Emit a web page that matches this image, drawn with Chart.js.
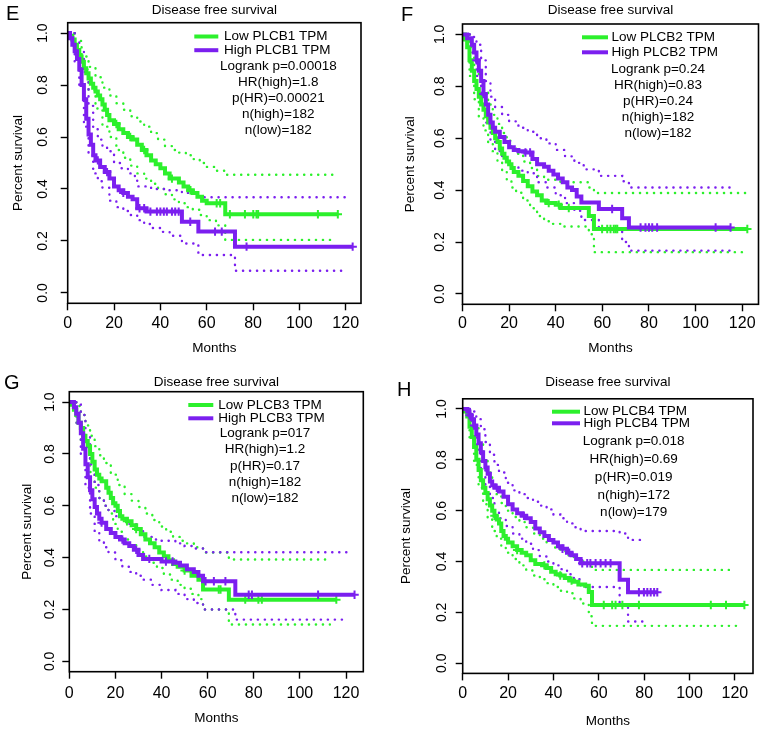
<!DOCTYPE html>
<html>
<head>
<meta charset="utf-8">
<script src="https://cdn.jsdelivr.net/npm/chart.js@4.4.0/dist/chart.umd.min.js"></script>
<style>
  body { margin: 0; background: #fff; width: 765px; height: 733px; position: relative; overflow: hidden;
         font-family: "Liberation Sans", Arial, sans-serif; }
  canvas { position: absolute; }
  .tag { position: absolute; font-size: 20px; line-height: 20px; color: #000; }
</style>
</head>
<body>
<canvas id="cE" width="382" height="362" style="left:0;top:0"></canvas>
<canvas id="cF" width="383" height="362" style="left:382px;top:0"></canvas>
<canvas id="cG" width="382" height="371" style="left:0;top:362px"></canvas>
<canvas id="cH" width="383" height="371" style="left:382px;top:362px"></canvas>
<div class="tag" style="left:6px;top:3px">E</div>
<div class="tag" style="left:401px;top:4px">F</div>
<div class="tag" style="left:4px;top:372px">G</div>
<div class="tag" style="left:397px;top:379px">H</div>

<script>
// --- shared axis data ---
const xTicks = [0, 20, 40, 60, 80, 100, 120];
const yTicks = [0, 0.2, 0.4, 0.6, 0.8, 1.0];
const panelTitle = 'Disease free survival';
const xTitle = 'Months';
const yTitle = 'Percent survival';

const GREEN = '#2cf02c';
const PURPLE = '#7b1fef';

// --- E : PLCB1 --- [month, survival]
const eLowCurve = [[0,1],[1,0.99],[2,0.975],[3,0.955],[4,0.935],[5,0.91],[6,0.89],[7,0.865],[8,0.845],[9,0.825],[10,0.805],[11,0.79],[12,0.775],[13,0.76],[14,0.745],[15,0.725],[16,0.705],[17,0.685],[18,0.665],[20,0.65],[22,0.63],[24,0.615],[26,0.6],[28,0.59],[30,0.57],[32,0.55],[34,0.53],[36,0.51],[38,0.495],[40,0.48],[42,0.46],[44,0.44],[48,0.425],[50,0.41],[52,0.395],[54,0.385],[56,0.37],[58,0.355],[60,0.345],[68,0.303],[116.6,0.303]];
const eLowUpper = [[0,1],[3,0.97],[6,0.91],[9,0.87],[12,0.83],[15,0.79],[18,0.76],[21,0.73],[24,0.705],[27,0.68],[30,0.66],[33,0.64],[36,0.615],[39,0.59],[42,0.565],[45,0.55],[48,0.54],[51,0.53],[54,0.515],[57,0.5],[60,0.485],[64,0.47],[68,0.455],[114.5,0.455]];
const eLowLower = [[0,1],[3,0.93],[6,0.86],[9,0.78],[12,0.71],[15,0.64],[18,0.6],[21,0.55],[24,0.52],[27,0.49],[30,0.46],[33,0.44],[36,0.42],[39,0.4],[42,0.38],[45,0.36],[48,0.345],[51,0.33],[54,0.32],[57,0.3],[60,0.28],[64,0.26],[68,0.204],[115.2,0.204]];
const eLowCensor = [21, 27, 33, 45, 53, 64.3, 65.8, 70, 76.5, 80.1, 81.5, 82.2, 108, 116.6];
const eHighCurve = [[0,1],[1,0.98],[2,0.955],[3,0.93],[4,0.9],[5,0.86],[6,0.8],[7,0.745],[8,0.67],[9,0.61],[10,0.57],[11,0.53],[12,0.51],[14,0.485],[16,0.465],[18,0.44],[20,0.41],[22,0.395],[24,0.385],[26,0.37],[28,0.36],[30,0.326],[34,0.313],[49.3,0.274],[56.4,0.236],[72.2,0.178],[123,0.178]];
const eHighUpper = [[0,1],[3,0.97],[5,0.93],[7,0.85],[9,0.72],[11,0.63],[13,0.59],[15,0.565],[17,0.545],[20,0.5],[23,0.48],[26,0.46],[29,0.445],[30,0.41],[36,0.4],[42,0.395],[49.3,0.385],[56.4,0.368],[120.2,0.368]];
const eHighLower = [[0,1],[3,0.89],[5,0.8],[7,0.64],[9,0.53],[11,0.46],[13,0.43],[15,0.405],[18,0.355],[21,0.33],[24,0.315],[27,0.3],[30,0.28],[33,0.265],[36,0.25],[40,0.235],[44,0.22],[49.3,0.19],[56.4,0.146],[72.2,0.085],[120.2,0.085]];
const eHighCensor = [13, 17, 24, 31, 33, 35.7, 38.5, 40, 41.5, 42.8, 45, 46.4, 47.9, 52.9, 63.6, 66.5, 77.2, 123];
const eLegend = ['Low PLCB1 TPM', 'High PLCB1 TPM'];
const eStats = ['Logrank p=0.00018', 'HR(high)=1.8', 'p(HR)=0.00021', 'n(high)=182', 'n(low)=182'];

// --- F : PLCB2 ---
const fLowCurve = [[0,1],[1,0.98],[2,0.95],[3,0.9],[4,0.86],[5,0.82],[6,0.79],[7,0.76],[8,0.73],[9,0.71],[10,0.685],[11,0.66],[12,0.64],[13,0.62],[14,0.6],[15,0.585],[16,0.56],[17,0.54],[18,0.525],[19,0.51],[20,0.5],[21,0.485],[22,0.47],[24,0.455],[26,0.435],[28,0.415],[30,0.395],[32,0.38],[34,0.36],[36,0.35],[40,0.344],[42,0.331],[54.2,0.3],[56.4,0.25],[122.2,0.25]];
const fLowUpper = [[0,1],[3,0.95],[5,0.88],[7,0.83],[9,0.78],[11,0.73],[13,0.69],[15,0.655],[17,0.62],[19,0.59],[21,0.56],[23,0.54],[26,0.51],[29,0.485],[32,0.455],[35,0.44],[40,0.435],[42,0.43],[54.2,0.41],[56.4,0.389],[122,0.389]];
const fLowLower = [[0,1],[3,0.84],[5,0.75],[7,0.68],[9,0.63],[11,0.58],[13,0.55],[15,0.51],[17,0.47],[19,0.44],[21,0.41],[23,0.39],[26,0.36],[29,0.33],[32,0.3],[35,0.28],[38,0.27],[42,0.26],[54.2,0.23],[56.4,0.161],[120.5,0.161]];
const fLowCensor = [37, 41.3, 45.6, 59.9, 62.1, 63.5, 64.9, 65.7, 66.4, 122.2];
const fHighCurve = [[0,1],[2,0.985],[4,0.96],[5,0.93],[6,0.9],[7,0.86],[8,0.82],[9,0.77],[10,0.73],[11,0.69],[12,0.66],[13,0.64],[14,0.625],[16,0.605],[18,0.585],[20,0.565],[22,0.555],[24,0.55],[27,0.545],[30,0.52],[32,0.5],[35,0.49],[37,0.475],[39,0.46],[41,0.445],[43,0.43],[45,0.41],[47,0.4],[49,0.375],[51,0.352],[58.5,0.327],[68.5,0.292],[71.4,0.256],[115,0.256]];
const fHighUpper = [[0,1],[4,0.99],[6,0.96],[8,0.9],[10,0.82],[12,0.76],[14,0.72],[17,0.69],[20,0.665],[24,0.64],[28,0.625],[32,0.6],[36,0.58],[40,0.555],[44,0.53],[48,0.505],[52,0.48],[58.5,0.455],[68.5,0.434],[71.4,0.41],[115,0.41]];
const fHighLower = [[0,1],[4,0.93],[6,0.84],[8,0.74],[10,0.66],[12,0.59],[14,0.55],[17,0.52],[20,0.49],[24,0.475],[28,0.465],[32,0.43],[36,0.41],[40,0.38],[44,0.35],[48,0.32],[51,0.285],[58.5,0.247],[68.5,0.2],[71.4,0.167],[115,0.167]];
const fHighCensor = [6, 9, 27, 29, 64.2, 76.4, 78.5, 80, 81.4, 83.5, 108.6, 115];
const fLegend = ['Low PLCB2 TPM', 'High PLCB2 TPM'];
const fStats = ['Logrank p=0.24', 'HR(high)=0.83', 'p(HR)=0.24', 'n(high)=182', 'n(low)=182'];

// --- G : PLCB3 ---
const gLowCurve = [[0,1],[1,0.99],[2,0.97],[3,0.95],[4,0.92],[5,0.9],[6,0.87],[7,0.85],[8,0.83],[9,0.8],[10,0.77],[11,0.74],[12,0.72],[13,0.705],[14,0.695],[16,0.67],[17,0.65],[18,0.63],[19,0.61],[20,0.6],[21,0.58],[22,0.56],[23,0.55],[25,0.54],[27,0.525],[29,0.51],[31,0.49],[33,0.47],[35,0.455],[37,0.44],[39,0.42],[41,0.405],[43,0.39],[45,0.375],[47,0.365],[50,0.35],[53,0.33],[56,0.315],[58,0.277],[69.2,0.238],[115.8,0.238]];
const gLowUpper = [[0,1],[3,0.985],[5,0.95],[7,0.91],[9,0.87],[11,0.83],[13,0.795],[15,0.765],[18,0.72],[21,0.68],[24,0.645],[27,0.62],[30,0.595],[33,0.57],[36,0.545],[39,0.52],[42,0.5],[45,0.48],[48,0.465],[51,0.455],[54,0.44],[58,0.42],[69.2,0.393],[113.6,0.393]];
const gLowLower = [[0,1],[3,0.92],[5,0.85],[7,0.79],[9,0.73],[11,0.67],[13,0.63],[15,0.6],[17,0.57],[19,0.53],[21,0.5],[23,0.47],[26,0.45],[29,0.43],[32,0.405],[35,0.38],[38,0.36],[41,0.335],[44,0.315],[47,0.295],[50,0.28],[53,0.26],[56,0.24],[58,0.2],[69.2,0.142],[113,0.142]];
const gLowCensor = [25, 29, 50, 64.8, 65.6, 76.3, 82, 83.5, 115.8];
const gHighCurve = [[0,1],[2,0.98],[3,0.955],[4,0.92],[5,0.88],[6,0.82],[7,0.76],[8,0.71],[9,0.66],[10,0.625],[11,0.595],[12,0.57],[13,0.55],[14,0.535],[16,0.51],[18,0.495],[20,0.48],[22,0.47],[24,0.455],[26,0.445],[28,0.43],[30,0.41],[32,0.395],[40,0.385],[46,0.38],[48,0.37],[51,0.355],[54,0.345],[56,0.33],[58,0.309],[72,0.257],[123.7,0.257]];
const gHighUpper = [[0,1],[3,0.99],[5,0.95],[7,0.87],[9,0.76],[11,0.68],[13,0.63],[15,0.6],[17,0.58],[20,0.56],[23,0.545],[26,0.53],[29,0.51],[32,0.48],[36,0.47],[40,0.465],[46,0.455],[50,0.445],[54,0.435],[58,0.421],[120.8,0.421]];
const gHighLower = [[0,1],[3,0.92],[5,0.8],[7,0.67],[9,0.57],[11,0.5],[13,0.46],[15,0.44],[17,0.42],[20,0.39],[23,0.365],[26,0.345],[29,0.33],[32,0.315],[36,0.295],[40,0.275],[46,0.26],[50,0.24],[54,0.225],[58,0.2],[72,0.161],[118.7,0.161]];
const gHighCensor = [14, 23, 29, 34.7, 41.9, 44.8, 59.1, 62.7, 67.7, 77.8, 79.2, 107.9, 123.7];
const gLegend = ['Low PLCB3 TPM', 'High PLCB3 TPM'];
const gStats = ['Logrank p=017', 'HR(high)=1.2', 'p(HR)=0.17', 'n(high)=182', 'n(low)=182'];

// --- H : PLCB4 ---
const hLowCurve = [[0,1],[1,0.99],[2,0.97],[3,0.93],[4,0.89],[5,0.85],[6,0.8],[7,0.76],[8,0.72],[9,0.69],[10,0.67],[11,0.645],[12,0.62],[13,0.6],[14,0.58],[15,0.565],[16,0.55],[17,0.52],[18,0.5],[19,0.49],[20,0.475],[22,0.46],[24,0.445],[26,0.435],[28,0.425],[30,0.405],[32,0.39],[35,0.385],[37,0.375],[39,0.36],[41,0.35],[43,0.345],[45,0.335],[47,0.325],[49,0.32],[51,0.31],[54,0.305],[55.6,0.28],[57,0.229],[124.2,0.229]];
const hLowUpper = [[0,1],[3,0.98],[5,0.93],[7,0.87],[9,0.8],[11,0.75],[13,0.7],[15,0.665],[17,0.63],[19,0.6],[22,0.575],[25,0.555],[28,0.535],[31,0.51],[34,0.49],[37,0.475],[40,0.455],[43,0.44],[46,0.425],[49,0.41],[52,0.4],[55.6,0.385],[57,0.367],[119.8,0.367]];
const hLowLower = [[0,1],[3,0.88],[5,0.78],[7,0.69],[9,0.625],[11,0.57],[13,0.52],[15,0.49],[17,0.46],[19,0.435],[22,0.41],[25,0.385],[28,0.365],[31,0.345],[34,0.33],[37,0.315],[40,0.3],[43,0.285],[46,0.275],[49,0.255],[52,0.235],[55.6,0.185],[57,0.147],[123.5,0.147]];
const hLowCensor = [14, 24, 36, 43, 48, 62.2, 65.9, 67.4, 70.4, 77.7, 109.4, 116.1, 124.2];
const hHighCurve = [[0,1],[2,0.99],[3,0.975],[4,0.96],[5,0.935],[6,0.9],[7,0.865],[8,0.83],[9,0.795],[10,0.77],[11,0.745],[12,0.715],[13,0.7],[14,0.69],[16,0.675],[18,0.655],[20,0.625],[22,0.605],[24,0.59],[26,0.58],[28,0.57],[30,0.555],[32,0.53],[34,0.515],[36,0.5],[38,0.485],[40,0.475],[42,0.46],[44,0.45],[46,0.435],[48,0.425],[50,0.41],[52,0.393],[69.2,0.328],[72.9,0.279],[85.8,0.279]];
const hHighUpper = [[0,1],[4,0.99],[6,0.96],[8,0.92],[10,0.87],[12,0.82],[14,0.78],[16,0.75],[19,0.71],[22,0.68],[25,0.665],[28,0.65],[31,0.635],[34,0.62],[37,0.605],[40,0.585],[43,0.57],[46,0.55],[49,0.535],[52,0.52],[69.2,0.51],[72.9,0.485],[80,0.485]];
const hHighLower = [[0,1],[4,0.92],[6,0.84],[8,0.76],[10,0.7],[12,0.65],[14,0.6],[16,0.57],[19,0.54],[22,0.51],[25,0.49],[28,0.47],[31,0.445],[34,0.42],[37,0.4],[40,0.385],[43,0.37],[46,0.35],[49,0.33],[52,0.3],[69.2,0.23],[72.9,0.164],[81.4,0.164]];
const hHighCensor = [3, 5, 15, 27, 44, 47, 52.7, 54.9, 56.3, 58.6, 60.8, 63, 65.2, 77.7, 79.9, 81.4, 82.9, 84.4, 85.8];
const hLegend = ['Low PLCB4 TPM', 'High PLCB4 TPM'];
const hStats = ['Logrank p=0.018', 'HR(high)=0.69', 'p(HR)=0.019', 'n(high)=172', 'n(low)=179'];

// placement of each panel (canvas-local px)
const panels = [
  { id: 'cE', area: { l: 67.7, t: 22.7, r: 361, b: 303.3 }, xMax: 126.6, titlePad: [1.8, 4.7], xTitlePad: 5.9, yTitlePad: 10.2, yTickPad: 7.6, xTickPad: 3.2,
    note: { lineX: 126.6, lineLen: 24, gap: 5.7, rows: [13.8, 27.5], statsX: 210.6, statsY: 43.3, statsGap: 16 },
    low: [eLowCurve, eLowUpper, eLowLower, eLowCensor], high: [eHighCurve, eHighUpper, eHighLower, eHighCensor], legend: eLegend, stats: eStats },
  { id: 'cF', area: { l: 80.5, t: 24, r: 376.5, b: 304.3 }, xMax: 127, titlePad: [1.8, 6], xTitlePad: 5.6, yTitlePad: 20.2, yTickPad: 5.4, xTickPad: 2.5,
    note: { lineX: 119.5, lineLen: 26, gap: 3.5, rows: [13.3, 28.3], statsX: 195.5, statsY: 45, statsGap: 16.1 },
    low: [fLowCurve, fLowUpper, fLowLower, fLowCensor], high: [fHighCurve, fHighUpper, fHighLower, fHighCensor], legend: fLegend, stats: fStats },
  { id: 'cG', area: { l: 69.3, t: 29.7, r: 363.3, b: 309.7 }, xMax: 127.5, titlePad: [11.8, 1.7], xTitlePad: 6.6, yTitlePad: 18.9, yTickPad: 2.5, xTickPad: 5.1,
    note: { lineX: 119, lineLen: 25, gap: 5, rows: [13.3, 26.6], statsX: 195.7, statsY: 41.6, statsGap: 16.25 },
    low: [gLowCurve, gLowUpper, gLowLower, gLowCensor], high: [gHighCurve, gHighUpper, gHighLower, gHighCensor], legend: gLegend, stats: gStats },
  { id: 'cH', area: { l: 80.7, t: 36.8, r: 371, b: 311.4 }, xMax: 128, titlePad: [11.8, 8.8], xTitlePad: 3.2, yTitlePad: 15.9, yTickPad: 3.9, xTickPad: 3.5,
    note: { lineX: 89.3, lineLen: 28, gap: 3.4, rows: [12.9, 24.5], statsX: 171, statsY: 42.9, statsGap: 17.75 },
    low: [hLowCurve, hLowUpper, hLowLower, hLowCensor], high: [hHighCurve, hHighUpper, hHighLower, hHighCensor], legend: hLegend, stats: hStats }
];

Chart.defaults.font.family = "'Liberation Sans', Arial, sans-serif";
Chart.defaults.color = '#000';

function toXY(pairs) { return pairs.map(([x, y]) => ({ x, y })); }

// value of a step curve at time t (for placing censor marks on it)
function survAt(curve, t) {
  let s = curve[0][1];
  for (const [x, y] of curve) { if (x <= t) s = y; else break; }
  return s;
}

function groupSets([curve, upper, lower, censor], color, order) {
  // dotted confidence bands: round caps on near-zero dashes give dots
  const ci = { borderColor: color, borderWidth: 2.4, borderDash: [0.2, 6.8], borderCapStyle: 'round',
               stepped: 'before', pointRadius: 0, fill: false, order: 10 };
  return [
    { data: toXY(curve), borderColor: color, borderWidth: 4, stepped: 'before', pointRadius: 0, fill: false, order: order + 1 },
    { data: censor.map(t => ({ x: t, y: survAt(curve, t) })), showLine: false, pointStyle: 'cross', pointRadius: 4.2,
      borderColor: color, borderWidth: 2, order },
    Object.assign({ data: toXY(upper) }, ci),
    Object.assign({ data: toXY(lower) }, ci)
  ];
}

const framePlugin = {
  id: 'frame',
  afterDatasetsDraw(chart) {
    const { ctx, chartArea: a } = chart;
    ctx.save();
    ctx.strokeStyle = '#000';
    ctx.lineWidth = 1.6;
    ctx.strokeRect(a.left, a.top, a.right - a.left, a.bottom - a.top);
    ctx.restore();
  }
};

function notePlugin(p) {
  return {
    id: 'kmNote',
    afterDraw(chart) {
      const { ctx, chartArea: a } = chart;
      const n = p.note;
      ctx.save();
      ctx.font = '13.5px "Liberation Sans", Arial, sans-serif';
      ctx.fillStyle = '#000';
      ctx.textBaseline = 'middle';
      [GREEN, PURPLE].forEach((c, i) => {
        const y = a.top + n.rows[i];
        ctx.strokeStyle = c;
        ctx.lineWidth = 4;
        ctx.beginPath();
        ctx.moveTo(a.left + n.lineX, y);
        ctx.lineTo(a.left + n.lineX + n.lineLen, y);
        ctx.stroke();
        ctx.textAlign = 'left';
        ctx.fillText(p.legend[i], a.left + n.lineX + n.lineLen + n.gap, y);
      });
      ctx.textAlign = 'center';
      p.stats.forEach((s, i) => ctx.fillText(s, a.left + n.statsX, a.top + n.statsY + i * n.statsGap));
      ctx.restore();
    }
  };
}

panels.forEach(p => {
  const canvas = document.getElementById(p.id);
  const W = canvas.width, H = canvas.height;
  new Chart(canvas, {
    type: 'line',
    data: { datasets: [...groupSets(p.high, PURPLE, 0), ...groupSets(p.low, GREEN, 2)] },
    options: {
      responsive: false,
      animation: false,
      events: [],
      layout: { padding: { left: 0, top: 0, right: W - p.area.r, bottom: 0 } },
      plugins: {
        legend: { display: false },
        tooltip: { enabled: false },
        title: { display: true, text: panelTitle, fullSize: false, color: '#000',
                 font: { size: 13.5, weight: 'normal' }, padding: { top: p.titlePad[0], bottom: p.titlePad[1] } }
      },
      scales: {
        x: {
          type: 'linear', min: 0, max: p.xMax,
          afterBuildTicks: s => { s.ticks = xTicks.map(v => ({ value: v })); },
          afterFit: s => { s.height = H - p.area.b; },
          grid: { display: true, drawOnChartArea: false, drawTicks: true, tickLength: 7, tickWidth: 1.4, tickColor: '#000' },
          border: { display: false },
          ticks: { color: '#000', font: { size: 16 }, padding: p.xTickPad, maxRotation: 0, autoSkip: false, callback: v => String(v) },
          title: { display: true, text: xTitle, color: '#000', font: { size: 13.5 }, padding: { top: 0, bottom: p.xTitlePad } }
        },
        y: {
          type: 'linear', min: -0.04, max: 1.04,
          afterBuildTicks: s => { s.ticks = yTicks.map(v => ({ value: v })); },
          afterFit: s => { s.width = p.area.l; },
          grid: { display: true, drawOnChartArea: false, drawTicks: true, tickLength: 7, tickWidth: 1.4, tickColor: '#000' },
          border: { display: false },
          ticks: { color: '#000', font: { size: 14 }, padding: p.yTickPad, minRotation: 90, maxRotation: 90, crossAlign: 'center',
                   autoSkip: false, callback: v => v.toFixed(1) },
          title: { display: true, text: yTitle, color: '#000', font: { size: 13.5 }, padding: { top: p.yTitlePad, bottom: 0 } }
        }
      }
    },
    plugins: [framePlugin, notePlugin(p)]
  });
});
</script>
</body>
</html>
